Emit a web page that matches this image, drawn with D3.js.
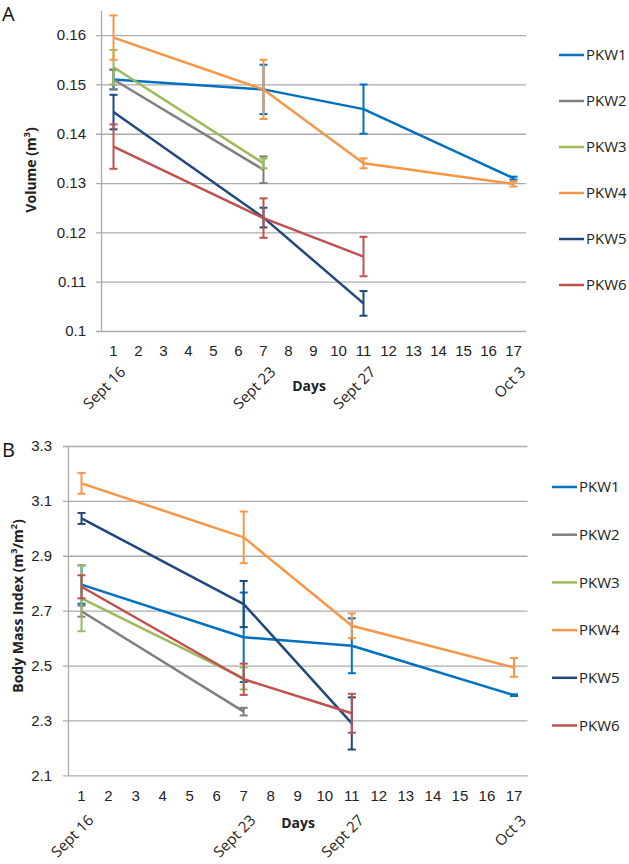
<!DOCTYPE html>
<html>
<head>
<meta charset="utf-8">
<script src="https://cdn.jsdelivr.net/npm/d3@7/dist/d3.min.js"></script>
<style>
  body { margin: 0; background: #fff; }
  svg { display: block; font-family: "Open Sans", "Liberation Sans", sans-serif; }
  .tick text { fill: #222; }
</style>
</head>
<body>
<svg id="chart" width="629" height="864"></svg>
<script>
// ---------- data ----------
const dayTicks = [1,2,3,4,5,6,7,8,9,10,11,12,13,14,15,16,17];
const dateDays = [1, 7, 11, 17];
const dateNames = ["Sept 16", "Sept 23", "Sept 27", "Oct 3"];
const seriesNames = ["PKW1", "PKW2", "PKW3", "PKW4", "PKW5", "PKW6"];
const seriesColors = ["#0070C0", "#7F7F7F", "#9BBB59", "#F79646", "#1F497D", "#C0504D"];
const seriesDays = [
  [1, 7, 11, 17],
  [1, 7],
  [1, 7],
  [1, 7, 11, 17],
  [1, 7, 11],
  [1, 7, 11]
];

// Panel A: Volume (m3)
const volTicks = [0.1, 0.11, 0.12, 0.13, 0.14, 0.15, 0.16];
const volTickLabels = ["0.1", "0.11", "0.12", "0.13", "0.14", "0.15", "0.16"];
const volMeans = [
  [0.151, 0.149, 0.145, 0.131],
  [0.151, 0.1327],
  [0.1535, 0.134],
  [0.1595, 0.149, 0.134, 0.1298],
  [0.1444, 0.123, 0.1056],
  [0.1374, 0.1229, 0.1151]
];
const volErrors = [
  [0.002, 0.005, 0.005, 0.0003],
  [0.002, 0.0027],
  [0.0035, 0.001],
  [0.0045, 0.006, 0.001, 0.0005],
  [0.0035, 0.002, 0.0025],
  [0.0045, 0.004, 0.004]
];

// Panel B: Body Mass Index (m3/m2)
const bmiTicks = [2.1, 2.3, 2.5, 2.7, 2.9, 3.1, 3.3];
const bmiTickLabels = ["2.1", "2.3", "2.5", "2.7", "2.9", "3.1", "3.3"];
const bmiMeans = [
  [2.795, 2.603, 2.572, 2.392],
  [2.698, 2.332],
  [2.745, 2.453],
  [3.164, 2.967, 2.645, 2.493],
  [3.036, 2.724, 2.289],
  [2.787, 2.45, 2.326]
];
const bmiErrors = [
  [0.07, 0.163, 0.1, 0.003],
  [0.02, 0.014],
  [0.12, 0.04],
  [0.038, 0.094, 0.045, 0.034],
  [0.02, 0.084, 0.095],
  [0.042, 0.057, 0.071]
];

// ---------- drawing ----------
const svg = d3.select("#chart");
const gridColor = "#ABABAB";

function drawPanel(opt) {
  const g = svg.append("g");
  const x = d3.scaleBand().domain(dayTicks).range([opt.left, opt.right]);
  const cx = d => x(d) + x.bandwidth() / 2;
  const y = d3.scaleLinear().domain(opt.yDomain).range([opt.bottom, opt.top]);

  // y axis with gridlines
  const yAxis = d3.axisLeft(y)
    .tickValues(opt.ticks)
    .tickFormat((d, i) => opt.tickLabels[i])
    .tickSizeInner(-(opt.right - opt.left))
    .tickSizeOuter(0)
    .tickPadding(10);
  const ya = g.append("g").attr("transform", `translate(${opt.left},0)`).call(yAxis);
  ya.select(".domain").attr("stroke", gridColor).attr("stroke-width", 1.3);
  ya.selectAll(".tick line").attr("stroke", gridColor).attr("stroke-width", 1.3).attr("x1", -5);
  ya.selectAll(".tick text").attr("font-size", 15).attr("x", opt.yLabelX);

  // x axis
  const xAxis = d3.axisBottom(x).tickSize(0).tickPadding(opt.xPad);
  const xa = g.append("g").attr("transform", `translate(0,${opt.bottom})`).call(xAxis);
  xa.select(".domain").remove();
  xa.selectAll(".tick text").attr("font-size", 15);

  // date labels
  g.selectAll(".date").data(dateDays).join("text")
    .attr("class", "date")
    .attr("transform", d => `translate(${cx(d) + opt.dateDx},${opt.bottom + opt.dateDy}) rotate(-45)`)
    .attr("text-anchor", "end")
    .attr("font-size", 15)
    .attr("fill", "#222")
    .text((d, i) => dateNames[i]);

  // x title
  g.append("text").attr("x", opt.xTitleX).attr("y", opt.xTitleY)
    .attr("text-anchor", "middle").attr("font-size", 14).attr("font-weight", "bold")
    .attr("fill", "#222").text("Days");

  // y title
  const yt = g.append("text")
    .attr("transform", `translate(${opt.yTitleX},${opt.yTitleY}) rotate(-90)`)
    .attr("text-anchor", "middle").attr("font-size", 14).attr("font-weight", "bold")
    .attr("fill", "#222");
  opt.yTitle(yt);

  // panel letter
  g.append("text").attr("x", opt.letterX).attr("y", opt.letterY)
    .attr("font-size", 20).attr("fill", "#111").text(opt.letter);

  // series
  const line = d3.line().x(p => cx(p.day)).y(p => y(p.v));
  seriesNames.forEach((name, si) => {
    const pts = seriesDays[si].map((d, j) => ({ day: d, v: opt.means[si][j], e: opt.errors[si][j] }));
    const sg = g.append("g");
    // error bars
    pts.forEach(p => {
      const x0 = cx(p.day), y1 = y(p.v + p.e), y2 = y(p.v - p.e);
      sg.append("line").attr("x1", x0).attr("x2", x0).attr("y1", y1).attr("y2", y2)
        .attr("stroke", seriesColors[si]).attr("stroke-width", 2);
      [y1, y2].forEach(yy => sg.append("line").attr("x1", x0 - 4).attr("x2", x0 + 4)
        .attr("y1", yy).attr("y2", yy).attr("stroke", seriesColors[si]).attr("stroke-width", 2));
    });
    sg.append("path").datum(pts).attr("d", line).attr("fill", "none")
      .attr("stroke", seriesColors[si]).attr("stroke-width", 2.5).attr("stroke-linejoin", "round");
    // legend
    const ly = opt.legendY0 + si * opt.legendStep;
    g.append("line").attr("x1", opt.legendX).attr("x2", opt.legendX + 25)
      .attr("y1", ly).attr("y2", ly).attr("stroke", seriesColors[si]).attr("stroke-width", 2.5);
    g.append("text").attr("x", opt.legendX + 27).attr("y", ly).attr("dy", "0.35em")
      .attr("font-size", 15).attr("fill", "#222").text(name);
  });
}

drawPanel({
  left: 101, right: 526, top: 10.5, bottom: 331,
  yDomain: [0.1, 0.165], ticks: volTicks, tickLabels: volTickLabels,
  means: volMeans, errors: volErrors, xPad: 14, yLabelX: -15,
  dateDx: 13, dateDy: 42,
  xTitleX: 309, xTitleY: 391,
  yTitleX: 36, yTitleY: 170,
  yTitle: t => { t.append("tspan").text("Volume (m"); t.append("tspan").attr("font-size", 9).attr("dy", -6).text("3"); t.append("tspan").attr("dy", 6).text(")"); },
  letter: "A", letterX: 2, letterY: 21,
  legendX: 559, legendY0: 55, legendStep: 46
});

drawPanel({
  left: 68, right: 527.5, top: 446, bottom: 775.3,
  yDomain: [2.1, 3.3], ticks: bmiTicks, tickLabels: bmiTickLabels,
  means: bmiMeans, errors: bmiErrors, xPad: 15, yLabelX: -16,
  dateDx: 13, dateDy: 46,
  xTitleX: 298, xTitleY: 828,
  yTitleX: 23, yTitleY: 606,
  yTitle: t => { t.append("tspan").text("Body Mass Index (m"); t.append("tspan").attr("font-size", 9).attr("dy", -6).text("3"); t.append("tspan").attr("dy", 6).text("/m"); t.append("tspan").attr("font-size", 9).attr("dy", -6).text("2"); t.append("tspan").attr("dy", 6).text(")"); },
  letter: "B", letterX: 2, letterY: 457,
  legendX: 552, legendY0: 487, legendStep: 47.7
});
</script>
</body>
</html>
